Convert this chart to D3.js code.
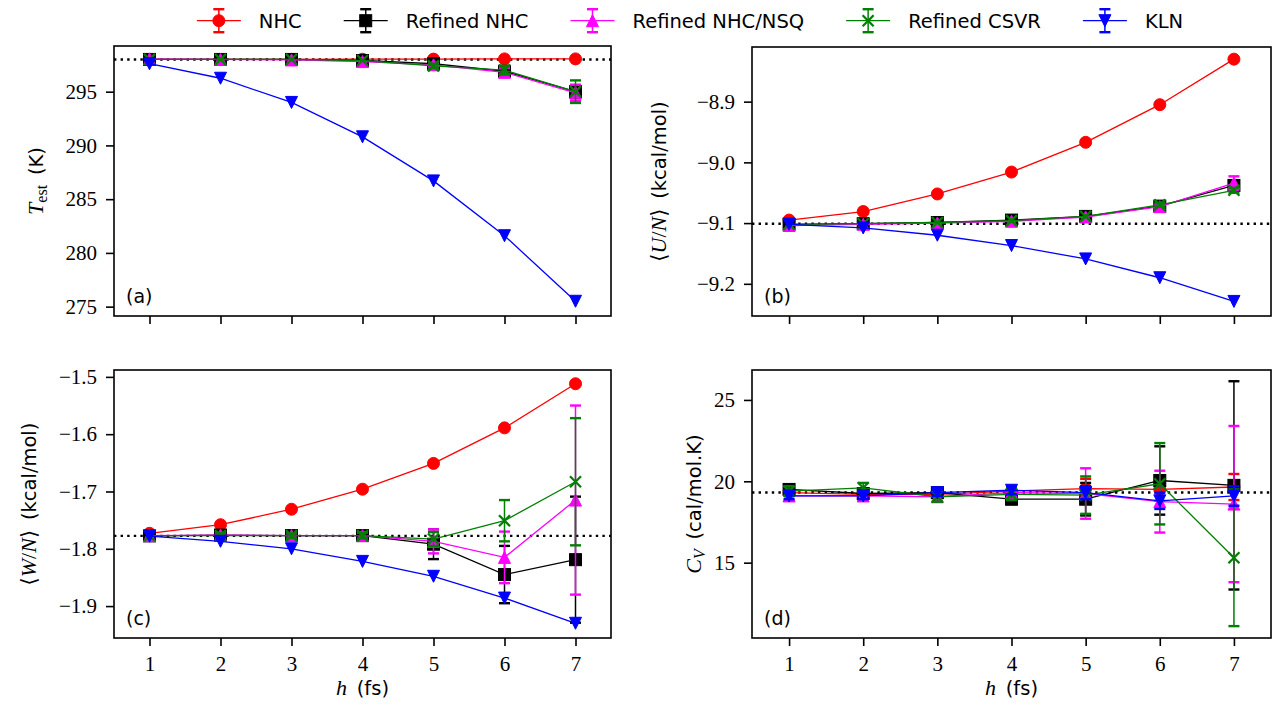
<!DOCTYPE html>
<html><head><meta charset="utf-8">
<script src="https://cdn.jsdelivr.net/npm/d3@7"></script>
<style>body{margin:0;background:#fff} svg{display:block}</style>
</head><body>
<svg id="chart" width="1276" height="706"></svg>
<script>
// ---------- data ----------
const hValues = [1, 2, 3, 4, 5, 6, 7];
const seriesNames = ["NHC", "Refined NHC", "Refined NHC/NSQ", "Refined CSVR", "KLN"];
const seriesColors = ["#ff0000", "#000000", "#ff00ff", "#008000", "#0000ff"];
const seriesMarkers = ["circle", "square", "triangle-up", "x", "triangle-down"];

// (a) T_est (K)
const tempNHC  = [298.0, 298.0, 298.0, 298.02, 298.03, 298.05, 298.05];
const tempRNHC = [298.0, 298.0, 298.0, 297.9, 297.6, 296.9, 295.0];
const tempNSQ  = [298.05, 298.0, 297.95, 297.8, 297.5, 296.8, 294.9];
const tempCSVR = [298.0, 298.0, 298.0, 297.9, 297.4, 297.0, 295.0];
const tempKLN  = [297.6, 296.25, 294.0, 290.8, 286.7, 281.6, 275.5];
const tempErrNHC  = [0, 0, 0, 0, 0, 0, 0];
const tempErrRNHC = [0, 0, 0, 0, 0.2, 0.4, 0.6];
const tempErrNSQ  = [0, 0, 0, 0, 0.2, 0.4, 0.75];
const tempErrCSVR = [0, 0, 0, 0, 0.2, 0.4, 1.05];
const tempErrKLN  = [0, 0, 0, 0, 0, 0, 0];
const tempTicks = [275, 280, 285, 290, 295];
const tempRef = 298.0;

// (b) <U/N> (kcal/mol)
const uNHC  = [-9.095, -9.081, -9.052, -9.016, -8.967, -8.905, -8.830];
const uRNHC = [-9.102, -9.101, -9.099, -9.095, -9.089, -9.072, -9.038];
const uNSQ  = [-9.104, -9.102, -9.100, -9.097, -9.090, -9.073, -9.034];
const uCSVR = [-9.102, -9.101, -9.099, -9.096, -9.089, -9.070, -9.046];
const uKLN  = [-9.102, -9.108, -9.120, -9.137, -9.159, -9.190, -9.229];
const uErrNHC  = [0, 0, 0, 0, 0, 0, 0];
const uErrRNHC = [0, 0, 0, 0, 0, 0.003, 0.006];
const uErrNSQ  = [0, 0, 0, 0, 0, 0.003, 0.011];
const uErrCSVR = [0, 0, 0, 0, 0, 0.003, 0.004];
const uErrKLN  = [0, 0, 0, 0, 0, 0, 0];
const uTicks = [-9.2, -9.1, -9.0, -8.9];
const uRef = -9.101;

// (c) <W/N> (kcal/mol)
const wNHC  = [-1.773, -1.758, -1.731, -1.696, -1.651, -1.589, -1.512];
const wRNHC = [-1.7775, -1.776, -1.777, -1.777, -1.792, -1.845, -1.819];
const wNSQ  = [-1.777, -1.776, -1.777, -1.777, -1.787, -1.815, -1.715];
const wCSVR = [-1.777, -1.777, -1.777, -1.777, -1.783, -1.751, -1.683];
const wKLN  = [-1.778, -1.787, -1.800, -1.822, -1.848, -1.886, -1.930];
const wErrNHC  = [0, 0, 0, 0, 0, 0, 0];
const wErrRNHC = [0, 0.004, 0.004, 0.005, 0.026, 0.05, 0.11];
const wErrNSQ  = [0, 0.004, 0.004, 0.006, 0.021, 0.045, 0.165];
const wErrCSVR = [0, 0.004, 0.004, 0.005, 0.012, 0.036, 0.111];
const wErrKLN  = [0, 0, 0, 0, 0, 0, 0];
const wTicks = [-1.9, -1.8, -1.7, -1.6, -1.5];
const wRef = -1.7775;

// (d) C_V (cal/mol.K)
const cvNHC  = [19.3, 19.2, 19.2, 19.4, 19.55, 19.5, 19.65];
const cvRNHC = [19.5, 19.25, 19.3, 18.9, 18.9, 20.05, 19.75];
const cvNSQ  = [19.1, 19.1, 19.05, 19.3, 19.25, 18.75, 18.6];
const cvCSVR = [19.4, 19.6, 19.05, 19.2, 19.15, 19.85, 15.3];
const cvKLN  = [19.1, 19.1, 19.3, 19.45, 19.3, 18.8, 19.1];
const cvErrNHC  = [0.2, 0.2, 0.2, 0.25, 0.6, 0.7, 0.8];
const cvErrRNHC = [0.3, 0.3, 0.3, 0.3, 1.0, 2.1, 6.4];
const cvErrNSQ  = [0.3, 0.3, 0.3, 0.35, 1.55, 1.9, 4.8];
const cvErrCSVR = [0.3, 0.3, 0.3, 0.35, 1.15, 2.5, 4.2];
const cvErrKLN  = [0.2, 0.2, 0.2, 0.25, 0.4, 0.5, 0.6];
const cvTicks = [15, 20, 25];
const cvRef = 19.31;

// ---------- drawing ----------
const SERIF = "'Liberation Serif', 'DejaVu Serif', serif";
const SANS = "'DejaVu Sans', sans-serif";
const svg = d3.select("#chart");

const panels = [
  {tag: "(a)", left: 114, right: 611, top: 46, bottom: 316, yDomain: [274.13, 299.25],
   ticks: tempTicks, fmt: d3.format("d"), ref: tempRef,
   values: [tempNHC, tempRNHC, tempNSQ, tempCSVR, tempKLN],
   errors: [tempErrNHC, tempErrRNHC, tempErrNSQ, tempErrCSVR, tempErrKLN],
   xLabels: false, labelX: 43,
   ylabel: [["T", SERIF, "italic", 0, 22], ["est", SERIF, "normal", 4, 16], ["\u2002(K)", SANS, "normal", -4, 19.5]]},
  {tag: "(b)", left: 752, right: 1271, top: 47, bottom: 316, yDomain: [-9.253, -8.81],
   ticks: uTicks, fmt: d3.format(".1f"), ref: uRef,
   values: [uNHC, uRNHC, uNSQ, uCSVR, uKLN],
   errors: [uErrNHC, uErrRNHC, uErrNSQ, uErrCSVR, uErrKLN],
   xLabels: false, labelX: 666,
   ylabel: [["\u27E8", SERIF, "normal", 0, 21], ["U", SERIF, "italic", 0, 22], ["/", SERIF, "normal", 0, 22], ["N", SERIF, "italic", 0, 22], ["\u27E9", SERIF, "normal", 0, 21], ["\u2002(kcal/mol)", SANS, "normal", 0, 19.5]]},
  {tag: "(c)", left: 114, right: 611, top: 370, bottom: 638, yDomain: [-1.9557, -1.488],
   ticks: wTicks, fmt: d3.format(".1f"), ref: wRef,
   values: [wNHC, wRNHC, wNSQ, wCSVR, wKLN],
   errors: [wErrNHC, wErrRNHC, wErrNSQ, wErrCSVR, wErrKLN],
   xLabels: true, labelX: 36,
   ylabel: [["\u27E8", SERIF, "normal", 0, 21], ["W", SERIF, "italic", 0, 22], ["/", SERIF, "normal", 0, 22], ["N", SERIF, "italic", 0, 22], ["\u27E9", SERIF, "normal", 0, 21], ["\u2002(kcal/mol)", SANS, "normal", 0, 19.5]]},
  {tag: "(d)", left: 752, right: 1271, top: 370, bottom: 638, yDomain: [10.37, 26.84],
   ticks: cvTicks, fmt: d3.format("d"), ref: cvRef,
   values: [cvNHC, cvRNHC, cvNSQ, cvCSVR, cvKLN],
   errors: [cvErrNHC, cvErrRNHC, cvErrNSQ, cvErrCSVR, cvErrKLN],
   xLabels: true, labelX: 701,
   ylabel: [["C", SERIF, "italic", 0, 22], ["V", SERIF, "italic", 4, 16], ["\u2002(cal/mol.K)", SANS, "normal", -4, 19.5]]}
];

function drawMarker(g, type, cx, cy, color, s) {
  const h = s / 2;
  if (type === "circle") {
    g.append("circle").attr("cx", cx).attr("cy", cy).attr("r", h - 0.5)
      .attr("fill", color).attr("stroke", color).attr("stroke-width", 1);
  } else if (type === "square") {
    g.append("rect").attr("x", cx - h + 0.5).attr("y", cy - h + 0.5).attr("width", s - 1).attr("height", s - 1)
      .attr("fill", color).attr("stroke", color).attr("stroke-width", 1);
  } else if (type === "triangle-up") {
    g.append("path").attr("d", `M${cx},${cy - h + 0.5}L${cx - h + 0.5},${cy + h - 0.5}L${cx + h - 0.5},${cy + h - 0.5}Z`)
      .attr("fill", color).attr("stroke", color).attr("stroke-width", 1);
  } else if (type === "triangle-down") {
    g.append("path").attr("d", `M${cx},${cy + h - 0.5}L${cx - h + 0.5},${cy - h + 0.5}L${cx + h - 0.5},${cy - h + 0.5}Z`)
      .attr("fill", color).attr("stroke", color).attr("stroke-width", 1);
  } else if (type === "x") {
    const k = h - 1;
    g.append("path").attr("d", `M${cx - k},${cy - k}L${cx + k},${cy + k}M${cx - k},${cy + k}L${cx + k},${cy - k}`)
      .attr("fill", "none").attr("stroke", color).attr("stroke-width", 2.3);
  }
}

function drawErrorBar(g, cx, y1, y2, color) {
  g.append("line").attr("x1", cx).attr("x2", cx).attr("y1", y1).attr("y2", y2)
    .attr("stroke", color).attr("stroke-width", 1.5);
  [y1, y2].forEach(yy => g.append("line").attr("x1", cx - 5.5).attr("x2", cx + 5.5).attr("y1", yy).attr("y2", yy)
    .attr("stroke", color).attr("stroke-width", 2.4));
}

panels.forEach((p, pi) => {
  const x = d3.scaleLinear().domain([0.5, 7.5]).range([p.left, p.right]);
  const y = d3.scaleLinear().domain(p.yDomain).range([p.bottom, p.top]);
  const g = svg.append("g");
  const clipId = "clip" + pi;
  svg.append("clipPath").attr("id", clipId).append("rect")
    .attr("x", p.left).attr("y", p.top).attr("width", p.right - p.left).attr("height", p.bottom - p.top);
  const plot = g.append("g").attr("clip-path", `url(#${clipId})`);

  // reference dotted line
  plot.append("line").attr("x1", p.left).attr("x2", p.right).attr("y1", y(p.ref)).attr("y2", y(p.ref))
    .attr("stroke", "#000").attr("stroke-width", 2.4).attr("stroke-dasharray", "2.4,4.2");

  const line = d3.line().x((d, i) => x(hValues[i])).y(d => y(d));
  p.values.forEach((vals, si) => {
    const color = seriesColors[si];
    const sg = plot.append("g");
    vals.forEach((v, i) => {
      const e = p.errors[si][i];
      if (e > 0) drawErrorBar(sg, x(hValues[i]), y(v - e), y(v + e), color);
    });
    sg.append("path").datum(vals).attr("d", line).attr("fill", "none").attr("stroke", color).attr("stroke-width", 1.3);
    vals.forEach((v, i) => drawMarker(sg, seriesMarkers[si], x(hValues[i]), y(v), color, 13));
  });

  // axes
  const ya = g.append("g").attr("transform", `translate(${p.left},0)`)
    .call(d3.axisLeft(y).tickValues(p.ticks).tickSize(8).tickPadding(9).tickFormat(p.fmt));
  const xa = g.append("g").attr("transform", `translate(0,${p.bottom})`)
    .call(d3.axisBottom(x).tickValues(hValues).tickSize(8).tickPadding(10)
      .tickFormat(p.xLabels ? d3.format("d") : () => ""));
  [ya, xa].forEach(a => {
    a.select(".domain").remove();
    a.selectAll(".tick line").attr("stroke", "#000").attr("stroke-width", 1.6);
    a.selectAll(".tick text").attr("fill", "#000").attr("font-family", SERIF).attr("font-size", 21);
  });

  // frame
  g.append("rect").attr("x", p.left).attr("y", p.top).attr("width", p.right - p.left).attr("height", p.bottom - p.top)
    .attr("fill", "none").attr("stroke", "#000").attr("stroke-width", 1.6);

  // panel tag
  g.append("text").attr("x", p.left + 12).attr("y", p.bottom - 13).text(p.tag)
    .attr("font-family", SANS).attr("font-size", 19).attr("fill", "#000");

  // y label
  const cy = (p.top + p.bottom) / 2;
  const yl = g.append("text").attr("transform", `translate(${p.labelX},${cy}) rotate(-90)`)
    .attr("text-anchor", "middle").attr("fill", "#000");
  p.ylabel.forEach(([t, fam, st, dy, fs]) => {
    yl.append("tspan").text(t).attr("font-family", fam).attr("font-style", st).attr("font-size", fs).attr("dy", dy);
  });

  // x label
  if (p.xLabels) {
    const xl = g.append("text").attr("x", (p.left + p.right) / 2).attr("y", 695)
      .attr("text-anchor", "middle").attr("fill", "#000");
    xl.append("tspan").text("h").attr("font-family", SERIF).attr("font-style", "italic").attr("font-size", 22);
    xl.append("tspan").text("\u2002(fs)").attr("font-family", SANS).attr("font-size", 19.5);
  }
});

// ---------- legend ----------
const legend = svg.append("g");
const legendY = 20.7;
const items = seriesNames.map((name, i) => {
  const lg = legend.append("g");
  const color = seriesColors[i];
  lg.append("line").attr("x1", 0).attr("x2", 44).attr("y1", legendY).attr("y2", legendY)
    .attr("stroke", color).attr("stroke-width", 1.3);
  drawErrorBar(lg, 22, legendY - 11.5, legendY + 11.5, color);
  drawMarker(lg, seriesMarkers[i], 22, legendY, color, 13);
  const t = lg.append("text").attr("x", 62).attr("y", legendY + 7).text(name)
    .attr("font-family", SANS).attr("font-size", 19.5).attr("fill", "#000");
  return {lg, w: 62 + t.node().getComputedTextLength()};
});
const gap = 42;
const total = d3.sum(items, d => d.w) + gap * (items.length - 1);
let cur = 690 - total / 2;
items.forEach(it => { it.lg.attr("transform", `translate(${cur},0)`); cur += it.w + gap; });
</script>
</body></html>
